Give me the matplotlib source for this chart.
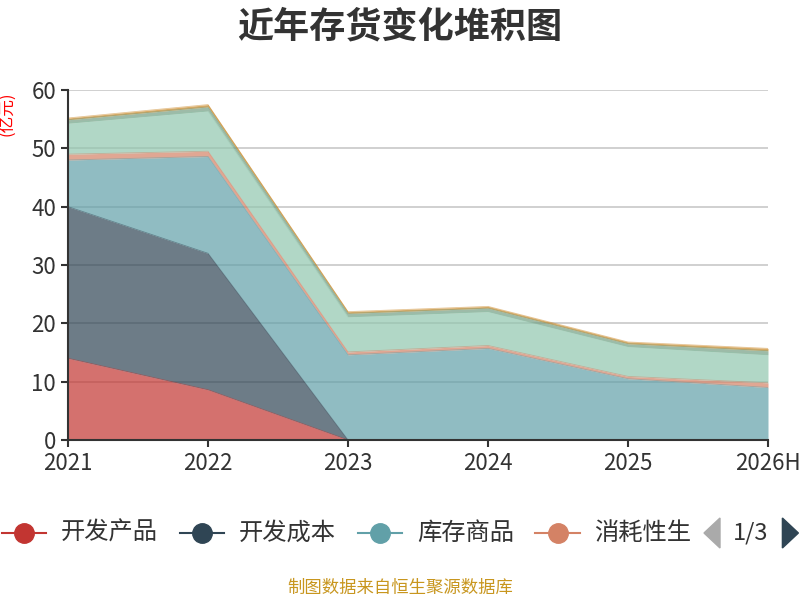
import matplotlib
matplotlib.use("Agg")
import matplotlib.pyplot as plt
import numpy as np
from matplotlib.lines import Line2D
from matplotlib.patches import Polygon

plt.rcParams['font.family'] = ['Noto Sans CJK SC', 'DejaVu Sans']

# 数据 (亿元)
years = ["2021", "2022", "2023", "2024", "2025", "2026H"]
series_names = ["开发产品", "开发成本", "库存商品", "消耗性生", "原材料", "周转材料", "其他"]
kaifa_chanpin = [14.0, 8.6, 0.0, 0.0, 0.0, 0.0]
kaifa_chengben = [26.0, 23.4, 0.0, 0.0, 0.0, 0.0]
kucun_shangpin = [8.0, 16.6, 14.6, 15.7, 10.5, 9.0]
xiaohao_sheng = [1.0, 0.9, 0.5, 0.5, 0.4, 0.8]
yuancailiao = [5.3, 6.9, 6.0, 5.8, 5.1, 4.8]
zhouzhuan = [0.6, 0.7, 0.6, 0.6, 0.5, 0.7]
qita = [0.3, 0.4, 0.3, 0.3, 0.3, 0.4]

colors = ['#c23531', '#2f4554', '#61a0a8', '#d48265', '#91c7ae', '#749f83', '#ca8622']
data = [kaifa_chanpin, kaifa_chengben, kucun_shangpin, xiaohao_sheng,
        yuancailiao, zhouzhuan, qita]

fig = plt.figure(figsize=(8, 6), dpi=100)
ax = fig.add_axes([0.085, 0.2667, 0.875, 0.5833])

x = np.arange(len(years))
bottom = np.zeros(len(years))
for vals, c in zip(data, colors):
    top = bottom + np.array(vals)
    ax.fill_between(x, bottom, top, color=c, alpha=0.7, linewidth=0, zorder=2)
    ax.plot(x, top, color=c, linewidth=0.6, alpha=0.5, zorder=3)
    bottom = top

ax.set_xlim(0, len(years) - 1)
ax.set_ylim(0, 60)
ax.set_yticks(range(0, 61, 10))
ax.set_xticks(x)
ax.set_xticklabels(years)
ax.grid(axis='y', color='#c8c8c8', linewidth=1.2, zorder=1)
ax.set_axisbelow(True)
for s in ['top', 'right']:
    ax.spines[s].set_visible(False)
for s in ['left', 'bottom']:
    ax.spines[s].set_color('#333333')
    ax.spines[s].set_linewidth(1.5)
    ax.spines[s].set_zorder(5)
ax.tick_params(axis='both', colors='#333333', labelsize=16, length=5, width=1.5)

fig.text(0.5, 0.955, "近年存货变化堆积图", ha='center', va='center',
         fontsize=26, fontweight='bold', color='#333333')
fig.text(0.010, 0.81, "(亿元)", rotation=90, ha='center', va='center',
         fontsize=12, color='red')

# 图例
leg_y = 1 - 533 / 600
starts = [0.0, 0.2225, 0.445, 0.667]
for i in range(4):
    x0 = starts[i]
    fig.add_artist(Line2D([x0 + 0.002, x0 + 0.058], [leg_y, leg_y],
                          transform=fig.transFigure, color=colors[i], linewidth=1.5))
    fig.add_artist(Line2D([x0 + 0.030], [leg_y], transform=fig.transFigure,
                          marker='o', markersize=14, color=colors[i], linewidth=0))
    fig.text(x0 + 0.076, leg_y, series_names[i], ha='left', va='center',
             fontsize=17.5, color='#333333')

fig.add_artist(Polygon([[0.900, leg_y + 0.025], [0.900, leg_y - 0.025], [0.880, leg_y]],
                       closed=True, transform=fig.transFigure, color='#aaaaaa'))
fig.text(0.938, leg_y, "1/3", ha='center', va='center', fontsize=17, color='#333333')
fig.add_artist(Polygon([[0.978, leg_y + 0.025], [0.978, leg_y - 0.025], [0.998, leg_y]],
                       closed=True, transform=fig.transFigure, color='#2f4554'))

fig.text(0.5, 1 - 588 / 600, "制图数据来自恒生聚源数据库", ha='center', va='center',
         fontsize=12.5, color='#c8961e')

plt.savefig("out.png", dpi=100)
